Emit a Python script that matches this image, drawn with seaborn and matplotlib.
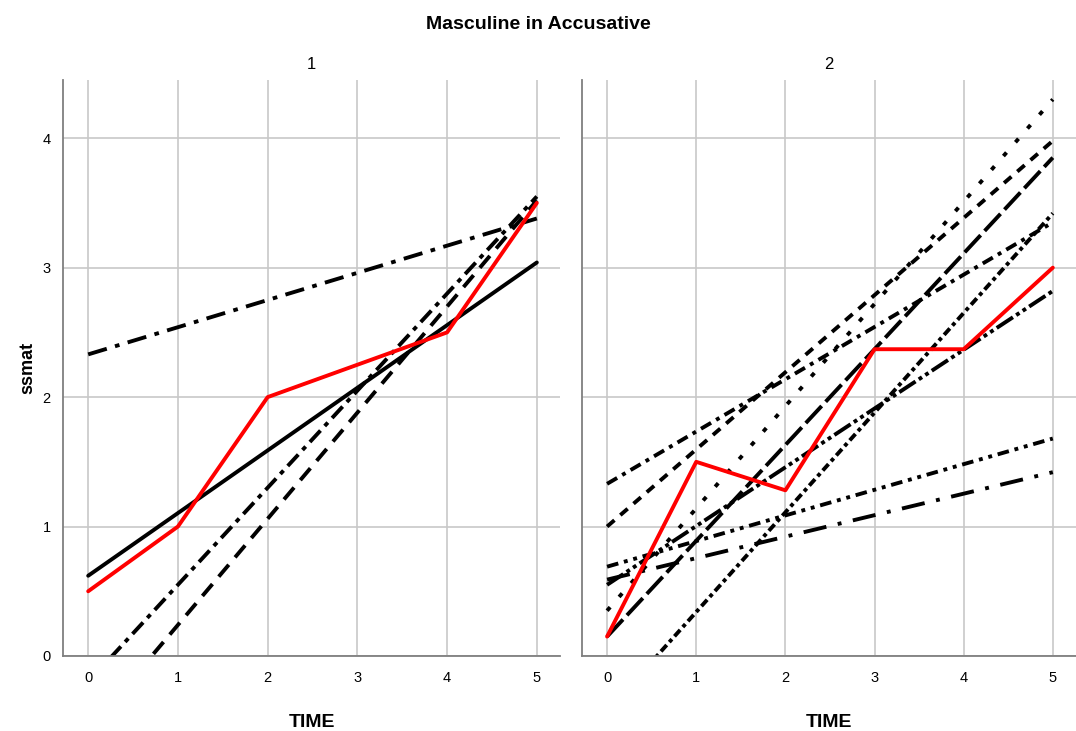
import numpy as np
import pandas as pd
import matplotlib
matplotlib.use("Agg")
import matplotlib.pyplot as plt
import seaborn as sns

# ---- data ----
time_full = [0, 1, 2, 3, 4, 5]
time_ends = [0, 5]

# panel 1
p1_mean = [0.5, 1.0, 2.0, 2.25, 2.5, 3.5]          # red observed means
p1_solid = [0.62, 3.04]
p1_dashdot_flat = [2.33, 3.38]
p1_dashdot_steep = [-0.2, 3.55]
p1_dashed = [-0.58, 3.52]

# panel 2
p2_mean = [0.15, 1.5, 1.28, 2.37, 2.37, 3.0]        # red observed means
p2_dotted = [0.35, 4.3]
p2_dashed = [1.0, 3.98]
p2_longdash = [0.15, 3.85]
p2_dashdot = [1.33, 3.35]
p2_dashdot_steep = [-0.43, 3.42]
p2_longdash_2dot = [0.55, 2.82]
p2_dash_2dot_low = [0.69, 1.68]
p2_longdash_dot_low = [0.59, 1.42]

title = "Masculine in Accusative"
panels = ["1", "2"]

# ---- build long table ----
rows = []
def add(panel, name, times, vals):
    for t, v in zip(times, vals):
        rows.append(dict(panel=panel, line=name, TIME=t, ssmat=v))

add("1", "mean1", time_full, p1_mean)
add("1", "solid", time_ends, p1_solid)
add("1", "dd_flat", time_ends, p1_dashdot_flat)
add("1", "dd_steep", time_ends, p1_dashdot_steep)
add("1", "dashed", time_ends, p1_dashed)
add("2", "mean2", time_full, p2_mean)
add("2", "dotted", time_ends, p2_dotted)
add("2", "dashed2", time_ends, p2_dashed)
add("2", "longdash", time_ends, p2_longdash)
add("2", "dashdot2", time_ends, p2_dashdot)
add("2", "dd_steep2", time_ends, p2_dashdot_steep)
add("2", "ld2dot", time_ends, p2_longdash_2dot)
add("2", "d2dot_low", time_ends, p2_dash_2dot_low)
add("2", "lddot_low", time_ends, p2_longdash_dot_low)
df = pd.DataFrame(rows)

dashes = {
    "mean1": "", "mean2": "", "solid": "",
    "dd_flat": (5, 2.2, 1.2, 2.2),
    "dd_steep": (4, 1.6, 1.2, 1.6),
    "dashed": (4, 2.5),
    "dotted": (1.2, 3.5),
    "dashed2": (2.5, 2),
    "longdash": (6, 1.5),
    "dashdot2": (3, 1.5, 1, 1.5),
    "dd_steep2": (2.2, 1, 1, 1),
    "ld2dot": (5, 1, 1, 1, 1, 1),
    "d2dot_low": (3, 1.5, 1, 1.5, 1, 1.5),
    "lddot_low": (6, 3, 1, 3),
}
palette = {k: ("#ff0000" if k.startswith("mean") else "black") for k in dashes}

sns.set_theme(style="white")
plt.rcParams["font.family"] = ["Liberation Sans", "DejaVu Sans"]
plt.rcParams["text.color"] = "black"
plt.rcParams["axes.labelcolor"] = "black"

fig = plt.figure(figsize=(10.76, 7.31), dpi=100)
ax1 = fig.add_axes([0.0586, 0.1026, 0.462, 0.788])
ax2 = fig.add_axes([0.541, 0.1026, 0.459, 0.788])

for ax, pn in zip([ax1, ax2], panels):
    sub = df[df.panel == pn]
    order = [n for n in sub.line.unique() if not n.startswith("mean")] + \
            [n for n in sub.line.unique() if n.startswith("mean")]
    sns.lineplot(data=sub, x="TIME", y="ssmat", hue="line", style="line",
                 hue_order=order, style_order=order,
                 palette=palette, dashes=dashes, linewidth=2.8,
                 sort=False, estimator=None, legend=False, ax=ax)
    ax.set_xlim(-0.28, 5.26)
    ax.set_ylim(0, 4.45)
    ax.set_xticks(time_full)
    ax.set_yticks([0, 1, 2, 3, 4])
    ax.grid(True, color="#c8c8c8", linewidth=1.2)
    ax.set_axisbelow(True)
    for s in ["top", "right"]:
        ax.spines[s].set_visible(False)
    for s in ["left", "bottom"]:
        ax.spines[s].set_color("#7f7f7f")
        ax.spines[s].set_linewidth(1.3)
    ax.tick_params(axis="both", labelsize=10.5, colors="black", length=0)
    ax.tick_params(axis="x", pad=11)
    ax.tick_params(axis="y", pad=9)
    ax.set_title(pn, fontsize=12, pad=8, color="black")
    ax.set_xlabel("TIME", fontsize=14, fontweight="bold", labelpad=21)

ax1.set_ylabel("ssmat", fontsize=13, fontweight="bold", labelpad=4)
ax2.set_ylabel("")
ax2.set_yticklabels([])

fig.suptitle(title, fontsize=14, fontweight="bold", y=0.978, color="black")
fig.savefig("out.png", dpi=100)
